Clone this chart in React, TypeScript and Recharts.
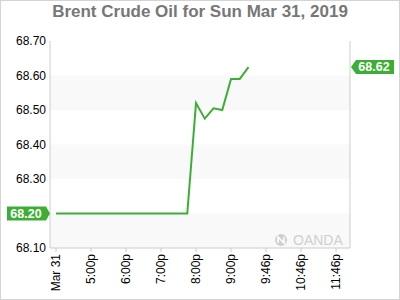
import {
  Line,
  LineChart,
  ReferenceArea,
  ReferenceDot,
  XAxis,
  YAxis,
} from "recharts";

// Sample index (one step ~ 15 min) -> Brent price.
const prices = [
  68.2, 68.2, 68.2, 68.2, 68.2, 68.2, 68.2, 68.2, 68.2, 68.2, 68.2, 68.2,
  68.2, 68.2, 68.2, 68.2, 68.52, 68.475, 68.505, 68.5, 68.59, 68.59, 68.624,
];
const tickIndex = [0, 4, 8, 12, 16, 20, 24, 28, 32];
const tickLabels = [
  "Mar 31",
  "5:00p",
  "6:00p",
  "7:00p",
  "8:00p",
  "9:00p",
  "9:46p",
  "10:46p",
  "11:46p",
];
const yTicks = [68.1, 68.2, 68.3, 68.4, 68.5, 68.6, 68.7];
const shadedBands = [
  [68.1, 68.2],
  [68.3, 68.4],
  [68.5, 68.6],
];
const openPrice = 68.2;
const lastPrice = 68.62;

const GREEN = "#3dae35";
const FONT = '"Liberation Sans", Arial, sans-serif';
const X_DOMAIN: [number, number] = [-0.69, 33.6];

const data = prices.map((price, i) => ({ i, price }));
// the open-price badge sits where the left 68.20 label would be
const leftTicks = yTicks.filter((t) => t !== openPrice);

interface TickProps {
  x?: number;
  y?: number;
  payload?: { value: number };
}

function RotatedTick({ x = 0, y = 0, payload }: TickProps) {
  const idx = tickIndex.indexOf(payload?.value ?? -1);
  return (
    <g transform={`translate(${x},${y})`}>
      <text
        transform="rotate(-90)"
        textAnchor="end"
        dy="0.35em"
        fontSize={12}
        fontFamily={FONT}
        fill="#000"
      >
        {tickLabels[idx] ?? ""}
      </text>
    </g>
  );
}

// Price badge pointing at the axis; side tells which way the arrow goes.
function badge(label: string, side: "left" | "right") {
  return (props: { cx?: number; cy?: number }) => {
    const cx = props.cx ?? 0;
    const cy = props.cy ?? 0;
    const h = 7;
    const path =
      side === "left"
        ? `M${cx - 43},${cy - h} L${cx - 4},${cy - h} L${cx},${cy} L${cx - 4},${cy + h} L${cx - 43},${cy + h} Z`
        : `M${cx + 1},${cy} L${cx + 6},${cy - h} L${cx + 44},${cy - h} L${cx + 44},${cy + h} L${cx + 6},${cy + h} Z`;
    const tx = side === "left" ? cx - 24 : cx + 24;
    return (
      <g>
        <path d={path} fill={GREEN} />
        <text
          x={tx}
          y={cy}
          dy="0.36em"
          textAnchor="middle"
          fontSize={12.5}
          fontWeight="bold"
          fontFamily={FONT}
          fill="#fff"
        >
          {label}
        </text>
      </g>
    );
  };
}

export default function App() {
  return (
    <div
      style={{
        position: "absolute",
        left: 0,
        top: 0,
        width: 400,
        height: 300,
        boxSizing: "border-box",
        border: "1px solid #d4d4d4",
        background: "#fff",
        fontFamily: FONT,
      }}
    >
      <div
        style={{
          position: "absolute",
          top: 1,
          left: 0,
          width: 398,
          textAlign: "center",
          fontSize: 17,
          lineHeight: "20px",
          fontWeight: "bold",
          color: "#777",
        }}
      >
        Brent Crude Oil for Sun Mar 31, 2019
      </div>
      <div style={{ position: "absolute", left: -1, top: -1 }}>
        <LineChart
          width={400}
          height={300}
          data={data}
          margin={{ top: 41, right: 0, bottom: 0, left: 0 }}
        >
          {shadedBands.map(([y1, y2]) => (
            <ReferenceArea
              key={y1}
              yAxisId="left"
              y1={y1}
              y2={y2}
              fill="#f9f9f9"
              fillOpacity={1}
              stroke="none"
            />
          ))}
          <XAxis
            dataKey="i"
            type="number"
            domain={X_DOMAIN}
            ticks={tickIndex}
            interval={0}
            height={52}
            tickSize={4}
            tickMargin={2}
            tickLine={{ stroke: "#ccc" }}
            axisLine={{ stroke: "#ccc" }}
            tick={<RotatedTick />}
          />
          <XAxis
            xAxisId="top"
            orientation="top"
            dataKey="i"
            type="number"
            domain={X_DOMAIN}
            height={0}
            tick={false}
            tickLine={false}
            axisLine={{ stroke: "#ccc" }}
          />
          <YAxis
            yAxisId="left"
            domain={[68.1, 68.7]}
            ticks={leftTicks}
            interval={0}
            width={50}
            tickSize={0}
            tickMargin={4}
            tickLine={false}
            axisLine={{ stroke: "#ccc" }}
            tickFormatter={(v: number) => v.toFixed(2)}
            tick={{ fill: "#000", fontSize: 12, fontFamily: FONT }}
          />
          <YAxis
            yAxisId="right"
            orientation="right"
            domain={[68.1, 68.7]}
            ticks={yTicks}
            interval={0}
            width={50}
            tickSize={0}
            tickMargin={5}
            tickLine={false}
            axisLine={{ stroke: "#ccc" }}
            tickFormatter={(v: number) => v.toFixed(2)}
            tick={{ fill: "#000", fontSize: 12, fontFamily: FONT }}
          />
          <Line
            yAxisId="left"
            dataKey="price"
            type="linear"
            stroke={GREEN}
            strokeWidth={2}
            dot={false}
            isAnimationActive={false}
          />
          <ReferenceDot
            yAxisId="left"
            x={X_DOMAIN[0]}
            y={openPrice}
            ifOverflow="visible"
            shape={badge(openPrice.toFixed(2), "left")}
          />
          <ReferenceDot
            yAxisId="left"
            x={X_DOMAIN[1]}
            y={lastPrice + 0.005}
            ifOverflow="visible"
            shape={badge(lastPrice.toFixed(2), "right")}
          />
        </LineChart>
      </div>
      <svg
        width={80}
        height={20}
        style={{ position: "absolute", left: 272, top: 229 }}
      >
        <circle cx={8} cy={10} r={6} fill="#cfcfcf" />
        <path d="M5,13 L5,7 L11,13 L11,7" stroke="#fff" strokeWidth={1.6} fill="none" />
        <text x={20} y={15} fontSize={14} fontFamily={FONT} fill="#cfcfcf">
          OANDA
        </text>
      </svg>
    </div>
  );
}
